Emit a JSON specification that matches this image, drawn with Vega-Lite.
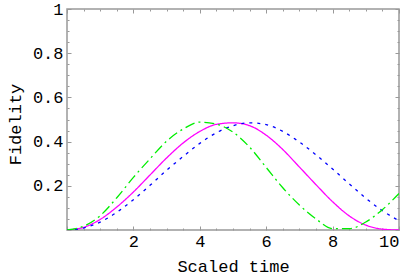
{
  "$schema": "https://vega.github.io/schema/vega-lite/v6.json",
  "width": 332,
  "height": 221,
  "autosize": {"type": "none"},
  "padding": {"left": 67, "top": 9, "right": 15, "bottom": 47},
  "background": "white",
  "config": {
    "view": {"stroke": "#999999", "strokeWidth": 1.5},
    "font": "Liberation Mono",
    "axis": {"grid": false, "labelFont": "Liberation Mono", "titleFont": "Liberation Mono", "labelColor": "black", "titleColor": "black", "tickColor": "#999999", "domain": false}
  },
  "data": {
    "values": [
      {"t": 0, "v": 0, "s": "magenta"}, {"t": 0.5, "v": 0.012, "s": "magenta"}, {"t": 1, "v": 0.048, "s": "magenta"}, {"t": 1.5, "v": 0.104, "s": "magenta"}, {"t": 2, "v": 0.172, "s": "magenta"}, {"t": 2.5, "v": 0.249, "s": "magenta"}, {"t": 3, "v": 0.326, "s": "magenta"}, {"t": 3.5, "v": 0.394, "s": "magenta"}, {"t": 4, "v": 0.446, "s": "magenta"}, {"t": 4.5, "v": 0.478, "s": "magenta"}, {"t": 5, "v": 0.485, "s": "magenta"}, {"t": 5.5, "v": 0.472, "s": "magenta"}, {"t": 6, "v": 0.429, "s": "magenta"}, {"t": 6.5, "v": 0.364, "s": "magenta"}, {"t": 7, "v": 0.285, "s": "magenta"}, {"t": 7.5, "v": 0.205, "s": "magenta"}, {"t": 8, "v": 0.128, "s": "magenta"}, {"t": 8.5, "v": 0.064, "s": "magenta"}, {"t": 9, "v": 0.022, "s": "magenta"}, {"t": 9.5, "v": 0.004, "s": "magenta"}, {"t": 10, "v": 0.0, "s": "magenta"},
      {"t": 0, "v": 0, "s": "blue"}, {"t": 0.5, "v": 0.009, "s": "blue"}, {"t": 1, "v": 0.036, "s": "blue"}, {"t": 1.5, "v": 0.080, "s": "blue"}, {"t": 2, "v": 0.137, "s": "blue"}, {"t": 2.5, "v": 0.202, "s": "blue"}, {"t": 3, "v": 0.270, "s": "blue"}, {"t": 3.5, "v": 0.333, "s": "blue"}, {"t": 4, "v": 0.392, "s": "blue"}, {"t": 4.5, "v": 0.440, "s": "blue"}, {"t": 5, "v": 0.472, "s": "blue"}, {"t": 5.5, "v": 0.485, "s": "blue"}, {"t": 6, "v": 0.477, "s": "blue"}, {"t": 6.5, "v": 0.446, "s": "blue"}, {"t": 7, "v": 0.398, "s": "blue"}, {"t": 7.5, "v": 0.340, "s": "blue"}, {"t": 8, "v": 0.276, "s": "blue"}, {"t": 8.5, "v": 0.209, "s": "blue"}, {"t": 9, "v": 0.144, "s": "blue"}, {"t": 9.5, "v": 0.087, "s": "blue"}, {"t": 10, "v": 0.042, "s": "blue"},
      {"t": 0, "v": 0, "s": "green"}, {"t": 0.5, "v": 0.017, "s": "green"}, {"t": 1, "v": 0.065, "s": "green"}, {"t": 1.5, "v": 0.146, "s": "green"}, {"t": 2, "v": 0.238, "s": "green"}, {"t": 2.5, "v": 0.322, "s": "green"}, {"t": 3, "v": 0.402, "s": "green"}, {"t": 3.5, "v": 0.457, "s": "green"}, {"t": 4, "v": 0.488, "s": "green"}, {"t": 4.5, "v": 0.479, "s": "green"}, {"t": 5, "v": 0.443, "s": "green"}, {"t": 5.5, "v": 0.375, "s": "green"}, {"t": 6, "v": 0.283, "s": "green"}, {"t": 6.5, "v": 0.191, "s": "green"}, {"t": 7, "v": 0.113, "s": "green"}, {"t": 7.5, "v": 0.050, "s": "green"}, {"t": 8, "v": 0.006, "s": "green"}, {"t": 8.5, "v": 0.006, "s": "green"}, {"t": 9, "v": 0.036, "s": "green"}, {"t": 9.5, "v": 0.092, "s": "green"}, {"t": 10, "v": 0.165, "s": "green"}
    ]
  },
  "resolve": {"axis": {"x": "independent", "y": "independent"}},
  "layer": [
    {
      "mark": {"type": "line", "interpolate": "monotone", "strokeWidth": 1.3, "clip": true},
      "encoding": {
        "x": {"field": "t", "type": "quantitative", "scale": {"domain": [0, 10], "nice": false},
          "axis": {"orient": "bottom", "values": [2, 4, 6, 8, 10], "ticks": false, "labelPadding": 3, "labelFontSize": 17, "title": "Scaled time", "titleFontSize": 17, "titleFontWeight": "normal", "titleX": 166, "titleY": 41, "titleBaseline": "alphabetic", "titleAlign": "center"}},
        "y": {"field": "v", "type": "quantitative", "scale": {"domain": [0, 1], "nice": false},
          "axis": {"orient": "left", "values": [0.2, 0.4, 0.6, 0.8, 1], "format": ".1~f", "ticks": false, "labelPadding": 4, "labelFontSize": 17, "title": "Fidelity", "titleFontSize": 17, "titleFontWeight": "normal", "titleAngle": -90, "titleX": -47, "titleY": 115, "titleBaseline": "alphabetic", "titleAlign": "center"}},
        "color": {"field": "s", "type": "nominal", "legend": null, "scale": {"domain": ["magenta", "blue", "green"], "range": ["#ff00ff", "#0000ff", "#00ee00"]}},
        "strokeDash": {"field": "s", "type": "nominal", "legend": null, "scale": {"domain": ["magenta", "blue", "green"], "range": [[1, 0], [3, 5], [10, 4, 2, 4]]}}
      }
    },
    {
      "mark": {"type": "point", "opacity": 0},
      "encoding": {
        "x": {"field": "t", "type": "quantitative", "axis": {"orient": "bottom", "values": [0, 2, 4, 6, 8, 10], "labels": false, "title": null, "tickSize": -4, "tickWidth": 1}},
        "y": {"field": "v", "type": "quantitative", "axis": {"orient": "left", "values": [0, 0.2, 0.4, 0.6, 0.8, 1], "labels": false, "title": null, "tickSize": -4, "tickWidth": 1}}
      }
    },
    {
      "mark": {"type": "point", "opacity": 0},
      "encoding": {
        "x": {"field": "t", "type": "quantitative", "axis": {"orient": "bottom", "values": [0.5, 1, 1.5, 2.5, 3, 3.5, 4.5, 5, 5.5, 6.5, 7, 7.5, 8.5, 9, 9.5], "labels": false, "title": null, "tickSize": -2, "tickWidth": 1}},
        "y": {"field": "v", "type": "quantitative", "axis": {"orient": "left", "values": [0.05, 0.1, 0.15, 0.25, 0.3, 0.35, 0.45, 0.5, 0.55, 0.65, 0.7, 0.75, 0.85, 0.9, 0.95], "labels": false, "title": null, "tickSize": -2, "tickWidth": 1}}
      }
    },
    {
      "mark": {"type": "point", "opacity": 0},
      "encoding": {
        "x": {"field": "t", "type": "quantitative", "axis": {"orient": "top", "values": [0, 2, 4, 6, 8, 10], "labels": false, "title": null, "tickSize": -4, "tickWidth": 1}},
        "y": {"field": "v", "type": "quantitative", "axis": {"orient": "right", "values": [0, 0.2, 0.4, 0.6, 0.8, 1], "labels": false, "title": null, "tickSize": -4, "tickWidth": 1}}
      }
    },
    {
      "mark": {"type": "point", "opacity": 0},
      "encoding": {
        "x": {"field": "t", "type": "quantitative", "axis": {"orient": "top", "values": [0.5, 1, 1.5, 2.5, 3, 3.5, 4.5, 5, 5.5, 6.5, 7, 7.5, 8.5, 9, 9.5], "labels": false, "title": null, "tickSize": -2, "tickWidth": 1}},
        "y": {"field": "v", "type": "quantitative", "axis": {"orient": "right", "values": [0.05, 0.1, 0.15, 0.25, 0.3, 0.35, 0.45, 0.5, 0.55, 0.65, 0.7, 0.75, 0.85, 0.9, 0.95], "labels": false, "title": null, "tickSize": -2, "tickWidth": 1}}
      }
    }
  ]
}
